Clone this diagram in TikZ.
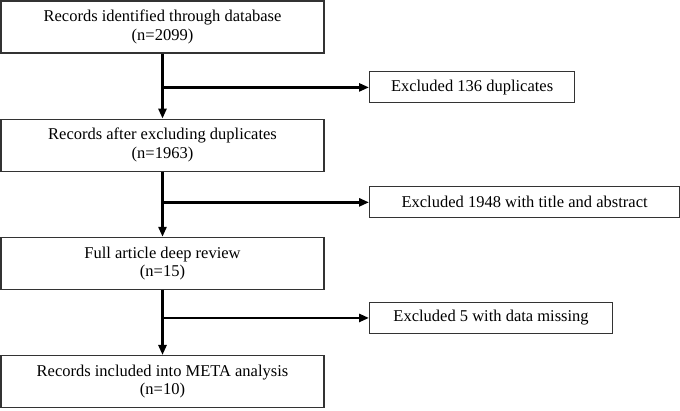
\documentclass[tikz,border=0pt]{standalone}
\usepackage{fontspec}
\setmainfont{Liberation Serif}
\usetikzlibrary{arrows.meta,calc,positioning}
\tikzset{
  mainbox/.style={draw=black!80,line width=1.2pt,minimum width=323pt,minimum height=52pt,
    align=center,inner sep=0pt},
  sidebox/.style={draw=black!80,line width=1.2pt,minimum height=31pt,inner sep=0pt,anchor=west},
  flow/.style={-{Triangle[length=10pt,width=8pt]},line width=2.6pt},
  every node/.style={font=\fontsize{16.5}{18.5}\selectfont}
}
\begin{document}
\begin{tikzpicture}[node distance=65pt]
\useasboundingbox (0,0) rectangle (680pt,-411pt);
\node[mainbox] (rec1) at (162.5pt,-27pt) {Records identified through database\\(n=2099)};
\node[mainbox, below=of rec1] (rec2) {Records after excluding duplicates\\(n=1963)};
\node[mainbox, below=of rec2] (rec3) {Full article deep review\\(n=15)};
\node[mainbox, below=of rec3] (rec4) {Records included into META analysis\\(n=10)};

% branch points on the main line
\coordinate (br1) at ($(rec1.south)!0.52!(rec2.north)$);
\coordinate (br2) at ($(rec2.south)!0.47!(rec3.north)$);
\coordinate (br3) at ($(rec3.south)!0.43!(rec4.north)$);

% excluded records
\node[sidebox, minimum width=205pt] (ex1) at ($(br1)+(206.5pt,0)$) {Excluded 136 duplicates};
\node[sidebox, minimum width=310pt] (ex2) at ($(br2)+(206.5pt,0)$) {Excluded 1948 with title and abstract};
\node[sidebox, minimum width=243pt] (ex3) at ($(br3)+(206.5pt,0)$) {Excluded 5 with data missing};

% main flow
\draw[flow] (rec1) -- (rec2);
\draw[flow] (rec2) -- (rec3);
\draw[flow] (rec3) -- (rec4);

% side arrows
\draw[flow] (br1) -- (ex1);
\draw[flow] (br2) -- (ex2);
\draw[flow] (br3) -- (ex3);
\end{tikzpicture}
\end{document}
